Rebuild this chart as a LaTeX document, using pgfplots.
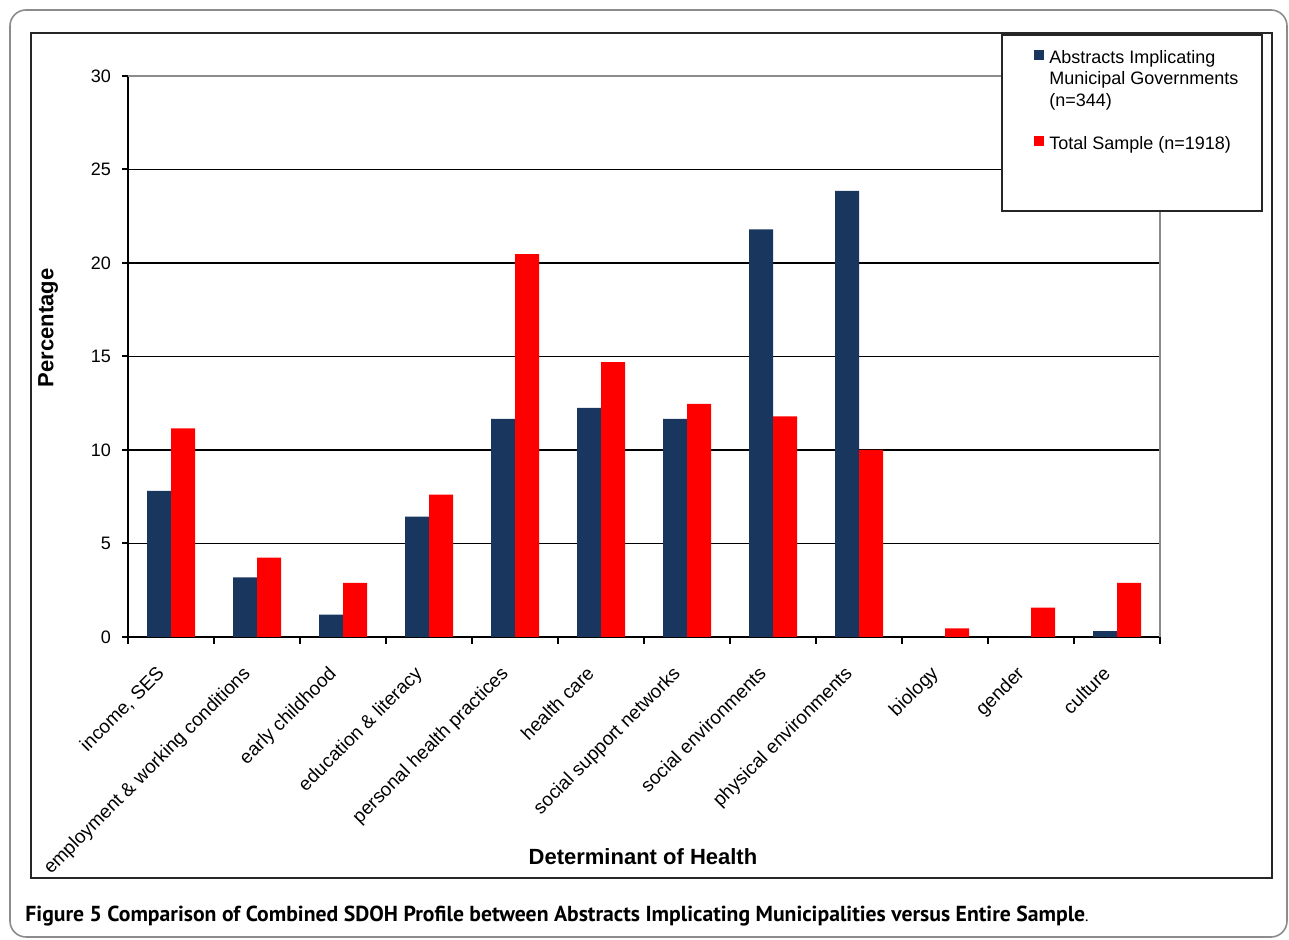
\documentclass[border=0pt]{standalone}
\usepackage{fontspec}
\setmainfont{Liberation Sans}
\newfontfamily\capfont{PT Sans}
\usepackage{pgfplots}
\usepackage{pgfplotstable}
\pgfplotsset{compat=1.18}

\definecolor{muniblue}{RGB}{24,54,94}
\definecolor{totalred}{RGB}{255,0,0}
\definecolor{framegray}{RGB}{140,140,140}

% percentage of abstracts per determinant of health
\pgfplotstableread{
idx muni total
0  7.82 11.16
1  3.19  4.24
2  1.19  2.90
3  6.43  7.61
4 11.66 20.48
5 12.25 14.70
6 11.66 12.46
7 21.80 11.80
8 23.85 10.00
9  0.00  0.46
10 0.00  1.57
11 0.32  2.90
}\sdoh

\begin{document}
\begin{tikzpicture}
\path[use as bounding box] (0pt,0pt) rectangle (644.5pt,470pt);
\draw[framegray, line width=0.8pt, rounded corners=8pt] (5pt,1.5pt) rectangle (643.5pt,465pt);
\draw[black!85, line width=1pt] (15.5pt,31pt) rectangle (636pt,453.5pt);

\begin{axis}[
  at={(64pt,151.5pt)}, anchor=south west,
  scale only axis, width=516pt, height=280.5pt,
  xmin=-0.5, xmax=11.5, ymin=0, ymax=30,
  clip=false,
  ybar=0pt, bar width=12pt,
  axis x line*=bottom, axis y line*=left,
  axis line style={black, line width=1pt},
  tick align=outside,
  xtick={0,...,11},
  xticklabels={{income, SES}, employment \& working conditions, early childhood,
    education \& literacy, personal health practices, health care,
    social support networks, social environments, physical environments,
    biology, gender, culture},
  major x tick style={draw=none},
  minor xtick={-0.5,0.5,...,11.5},
  minor x tick style={black, line width=1pt},
  minor tick length=3.5pt,
  ytick={0,5,...,30},
  major y tick style={black, line width=1pt},
  major tick length=3pt,
  ymajorgrids,
  grid style={black, line width=0.9pt},
  tick label style={font=\fontsize{9}{10}\selectfont},
  /pgf/number format/assume math mode=true,
  yticklabel style={xshift=-2pt},
  xticklabel style={xshift=-2.75pt, yshift=-15.75pt, rotate=45, anchor=base east,
    inner sep=0pt, font=\fontsize{9.5}{10}\selectfont},
  xlabel={\bfseries Determinant of Health},
  ylabel={\bfseries Percentage},
  label style={font=\fontsize{11}{13}\selectfont},
  xlabel style={at={(axis description cs:0.499,-0.392)}, anchor=center},
  ylabel style={at={(axis description cs:-0.0775,0.551)}, anchor=center},
  legend style={at={(axis description cs:0.872,1.057)}, anchor=north west,
    draw=none, fill=none, row sep=0pt, column sep=2pt,
    font=\fontsize{9}{11}\selectfont,
    nodes={inner sep=0.5pt, text height=7pt, text depth=2.75pt},
    cells={anchor=west}},
  legend image code/.code={\fill[#1,draw=none] (0pt,-0.5pt) rectangle (5pt,4.5pt);},
]
\addplot[fill=muniblue, draw=none] table[x=idx, y=muni] {\sdoh};
\addlegendentry{Abstracts Implicating}
\addlegendimage{empty legend}
\addlegendentry{Municipal Governments}
\addlegendimage{empty legend}
\addlegendentry{(n=344)}
\addlegendimage{empty legend}
\addlegendentry{}
\addplot[fill=totalred, draw=none] table[x=idx, y=total] {\sdoh};
\addlegendentry{Total Sample (n=1918)}
\draw[framegray, line width=1pt] (rel axis cs:0,1) -- (rel axis cs:1,1) -- (rel axis cs:1,0);
% legend frame, white, over the grid
\draw[black!85, line width=1pt, fill=white]
  (axis description cs:0.8469,1.0731) rectangle (axis description cs:1.0988,0.7594);
\end{axis}

\node[anchor=base west, inner sep=0pt] at (12.5pt,9pt)
  {\capfont\fontsize{10.85}{13}\selectfont\bfseries Figure 5 Comparison of Combined SDOH Profile between Abstracts Implicating Municipalities versus Entire Sample\mdseries\fontsize{8}{10}\selectfont.};
\end{tikzpicture}
\end{document}
